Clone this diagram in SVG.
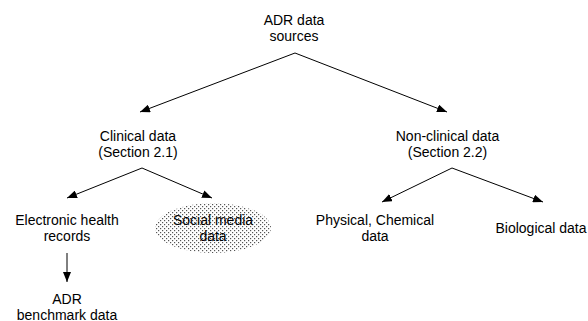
<svg xmlns="http://www.w3.org/2000/svg" width="588" height="321" viewBox="0 0 588 321">
  <style>
    text { font-family: "Liberation Sans", Arial, sans-serif; font-size: 14px; fill: #000; text-anchor: middle; }
    .edge { stroke: #000; stroke-width: 1; fill: none; marker-end: url(#head); }
  </style>
  <defs>
    <marker id="head" viewBox="0 0 10 8" refX="10" refY="4" markerWidth="10" markerHeight="8" markerUnits="userSpaceOnUse" orient="auto">
      <path d="M0,0 L10,4 L0,8 Z" fill="#000"/>
    </marker>
    <pattern id="dots" width="4" height="4" patternUnits="userSpaceOnUse">
      <rect width="4" height="4" fill="#fff"/>
      <rect x="0" y="0" width="1.2" height="1.2" fill="#555"/>
      <rect x="2" y="2" width="1.2" height="1.2" fill="#555"/>
    </pattern>
  </defs>

  <g id="connectors">
    <path class="edge" d="M295,53 L140,112"/>
    <path class="edge" d="M295,53 L447,112"/>
    <path class="edge" d="M142,168 L67,198"/>
    <path class="edge" d="M142,168 L212,198"/>
    <path class="edge" d="M452,168 L382,202"/>
    <path class="edge" d="M452,168 L543,202"/>
    <path class="edge" d="M67,253 L67,282"/>
  </g>

  <g id="adr-sources">
    <text x="294" y="24.5">ADR data</text>
    <text x="294" y="40.5">sources</text>
  </g>
  <g id="clinical">
    <text x="138" y="140.5">Clinical data</text>
    <text x="138" y="156.5">(Section 2.1)</text>
  </g>
  <g id="non-clinical">
    <text x="447.5" y="140.5">Non-clinical data</text>
    <text x="447.5" y="156.5">(Section 2.2)</text>
  </g>
  <g id="ehr">
    <text x="67" y="225">Electronic health</text>
    <text x="67" y="241">records</text>
  </g>
  <g id="social-media">
    <ellipse cx="213" cy="228" rx="58" ry="25" fill="url(#dots)"/>
    <text x="213" y="225">Social media</text>
    <text x="213" y="241">data</text>
  </g>
  <g id="physical-chemical">
    <text x="375" y="225">Physical, Chemical</text>
    <text x="375" y="241">data</text>
  </g>
  <g id="biological">
    <text x="541" y="233">Biological data</text>
  </g>
  <g id="benchmark">
    <text x="67" y="303.5">ADR</text>
    <text x="67" y="319.5">benchmark data</text>
  </g>
</svg>
